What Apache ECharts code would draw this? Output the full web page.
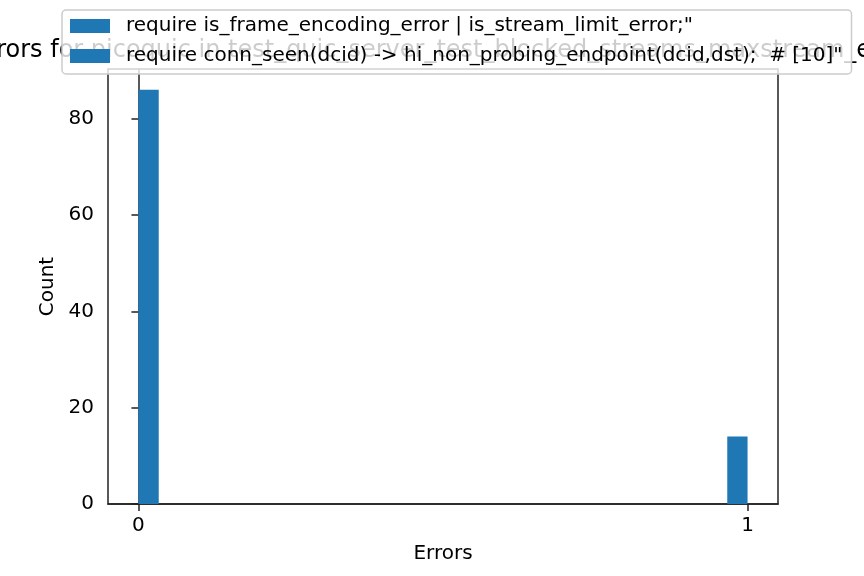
<!DOCTYPE html>
<html>
<head>
<meta charset="utf-8">
<script src="https://cdn.jsdelivr.net/npm/echarts@6/dist/echarts.min.js"></script>
<style>
html,body{margin:0;padding:0;background:#fff;}
#chart{width:864px;height:576px;}
</style>
</head>
<body>
<div id="chart"></div>
<script>
var titleText = 'Errors for picoquic in test_quic_server_test_blocked_streams_maxstream_error';
var seriesNames = [
  'require is_frame_encoding_error | is_stream_limit_error;"',
  'require conn_seen(dcid) -> hi_non_probing_endpoint(dcid,dst);  # [10]"'
];
var binStarts = [0, 0.9667];
var binEnds = [0.0333, 1.0];
var counts = [86, 14];
var xTicks = [0, 1];
var yTicks = [0, 20, 40, 60, 80];

var histData = binStarts.map(function (s, i) { return [s, binEnds[i], counts[i]]; });

function renderBin(params, api) {
  var p0 = api.coord([api.value(0), 0]);
  var p1 = api.coord([api.value(1), api.value(2)]);
  return {
    type: 'rect',
    shape: { x: p0[0], y: p1[1], width: p1[0] - p0[0], height: p0[1] - p1[1] },
    style: { fill: '#1f77b4' }
  };
}

var font = 'DejaVu Sans';
var chart = echarts.init(document.getElementById('chart'), null, { renderer: 'canvas' });
chart.setOption({
  animation: false,
  backgroundColor: '#ffffff',
  textStyle: { fontFamily: font },
  graphic: [{
    type: 'text', z: 0, x: 443, y: 51,
    style: { text: titleText, fontFamily: font, fontSize: 24, fill: '#000', align: 'center', verticalAlign: 'middle' }
  }],
  legend: {
    z: 10,
    orient: 'vertical',
    left: 62, top: 10,
    padding: [6, 9, 8, 8],
    itemGap: 10,
    itemWidth: 40, itemHeight: 14,
    icon: 'rect',
    backgroundColor: 'rgba(255,255,255,0.8)',
    borderColor: '#cccccc', borderWidth: 1.5, borderRadius: 4,
    textStyle: { fontFamily: font, fontSize: 20, color: '#000', padding: [0, 0, 0, 11] },
    data: seriesNames
  },
  grid: { left: 108, right: 86, top: 69, bottom: 72, show: true, borderColor: '#222', borderWidth: 1.5, backgroundColor: 'transparent' },
  xAxis: {
    type: 'value', min: -0.05, max: 1.05,
    name: 'Errors', nameLocation: 'middle', nameGap: 40,
    nameTextStyle: { fontFamily: font, fontSize: 20, color: '#000' },
    axisLine: { show: true, lineStyle: { color: '#222', width: 1.5 } },
    axisTick: { show: true, length: 7, lineStyle: { color: '#222', width: 1.5 }, customValues: xTicks },
    axisLabel: { color: '#000', fontFamily: font, fontSize: 20, margin: 12, customValues: xTicks },
    splitLine: { show: false }
  },
  yAxis: {
    type: 'value', min: 0, max: 90.3,
    name: 'Count', nameLocation: 'middle', nameGap: 45,
    nameTextStyle: { fontFamily: font, fontSize: 20, color: '#000' },
    axisLine: { show: true, lineStyle: { color: '#222', width: 1.5 } },
    axisTick: { show: true, length: 7, lineStyle: { color: '#222', width: 1.5 }, customValues: yTicks },
    axisLabel: { color: '#000', fontFamily: font, fontSize: 20, margin: 14, customValues: yTicks },
    splitLine: { show: false }
  },
  series: [
    { name: seriesNames[0], type: 'custom', renderItem: renderBin, itemStyle: { color: '#1f77b4' }, encode: { x: [0, 1], y: 2 }, data: histData },
    { name: seriesNames[1], type: 'custom', renderItem: renderBin, itemStyle: { color: '#1f77b4' }, encode: { x: [0, 1], y: 2 }, data: [] }
  ]
});
</script>
</body>
</html>
